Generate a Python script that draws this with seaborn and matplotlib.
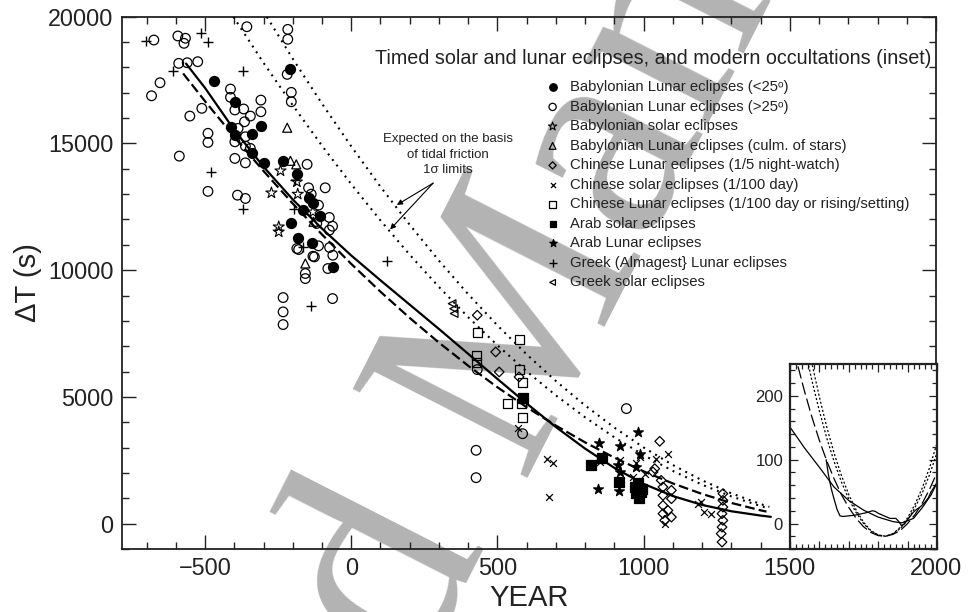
import matplotlib
matplotlib.use("Agg")
import matplotlib.pyplot as plt
from matplotlib.ticker import MultipleLocator, FixedLocator, NullFormatter
import seaborn as sns

# ---------------- data ----------------
BAB_LT25_YEAR = [-470, -396, -307, -411, -396, -341, -341, -299, -208, -233, -186, -146, -131, -166, -106, -205, -181, -134, -63]
BAB_LT25_DT = [17460, 16645, 15695, 15655, 15330, 15370, 14630, 14210, 17925, 14315, 13780, 12830, 12660, 12370, 12145, 11870, 11275, 11055, 10130]

BAB_GT25_YEAR = [-675, -593, -572, -567, -590, -561, -525, -654, -683, -511, -552, -490, -490, -588, -490,
                 -413, -413, -398, -368, -345, -365, -309, -309, -387, -362, -398, -362, -345, -398, -362,
                 -389, -362, -357, -217, -217, -219, -205, -205, -151, -146, -137, -112, -89, -118, -75,
                 -64, -75, -112, -180, -131, -74, -63, -186, -126, -80, -157, -157, -233, -233, -233,
                 -64, 431, 586, 427, 427, 941]
BAB_GT25_DT = [19080, 19240, 18950, 19150, 18160, 18185, 18225, 17395, 16880, 16385, 16080, 15400, 15040, 14500, 13110,
               17145, 16820, 16320, 16360, 16080, 15855, 16710, 16250, 15595, 15265, 15065, 14895, 14805, 14410, 14235,
               12960, 12830, 19605, 19500, 19110, 17725, 17015, 16645, 14175, 13250, 13000, 12565, 13250, 11845, 12080,
               11735, 11580, 10960, 10815, 10550, 10895, 10590, 10855, 10525, 10065, 9870, 9670, 8920, 8355, 7855,
               8880, 6080, 3550, 2895, 1815, 4540]

BAB_SOLAR_YEAR = [-242, -273, -186, -183, -248, -248, -131]
BAB_SOLAR_DT = [13920, 13050, 13485, 13000, 11710, 11510, 12300]

BAB_CULM_YEAR = [-219, -208, -188, -129, -157]
BAB_CULM_DT = [15620, 14315, 14175, 11910, 10265]

CHN_WATCH_YEAR = [431, 494, 506, 574, 1055, 1038, 1060, 1066, 1095, 1066, 1095, 1066, 1083, 1095, 1066, 1072, 1032,
                  1271, 1271, 1271, 1268, 1271, 1268, 1265, 1268]
CHN_WATCH_DT = [8225, 6775, 5985, 5790, 3250, 2170, 1710, 1445, 1315, 1117, 985, 720, 525, 260, 395, 130, 2040,
                1185, 920, 655, 395, 130, -135, -395, -725]

CHN_SOLAR_YEAR = [668, 691, 676, 572, 850, 918, 986, 1083, 1043, 1072, 1185, 1208, 1231, 975, 1003, 963, 1197]
CHN_SOLAR_DT = [2565, 2395, 1050, 3775, 2430, 2500, 2630, 2765, 2565, 0, 790, 460, 395, 2395, 1975, 1840, 855]

CHN_DAY_YEAR = [431, 429, 429, 577, 577, 585, 535, 581, 585]
CHN_DAY_DT = [7540, 6645, 6340, 7265, 6080, 5550, 4760, 4760, 4170]

ARAB_SOLAR_YEAR = [586, 856, 819, 916, 969, 982, 990, 975, 985, 995]
ARAB_SOLAR_DT = [4975, 2590, 2330, 1640, 1450, 1600, 1250, 1200, 1000, 1350]

ARAB_LUNAR_YEAR = [981, 846, 920, 913, 915, 844, 987, 973, 920]
ARAB_LUNAR_DT = [3615, 3195, 3065, 2300, 1290, 1380, 2765, 2235, 2040]

GREEK_LUNAR_YEAR = [-703, -515, -490, -610, -370, -480, -370, -197, -191, -166, -137, 122]
GREEK_LUNAR_DT = [19055, 19345, 18990, 17870, 17870, 13880, 12410, 12410, 13550, 10900, 8590, 10370]

GREEK_SOLAR_YEAR = [345, 350, 352]
GREEK_SOLAR_DT = [8680, 8480, 8290]

# fitted curve (solid)
FIT_YEAR = [-565, -500, -400, -300, -200, -100, 0, 100, 200, 300, 400, 500, 600, 700, 800, 900, 1000, 1100, 1200, 1300, 1400, 1435]
FIT_DT = [18150, 17190, 15530, 14080, 12790, 11640, 10580, 9600, 8640, 7680, 6700, 5710, 4740, 3810, 2960, 2200, 1570, 1090, 740, 490, 320, 270]

# parabola (dashed)
PAR_YEAR = [-575, -500, -400, -300, -200, -100, 0, 100, 200, 300, 400, 500, 600, 700, 800, 900, 1000, 1100, 1200, 1300, 1400, 1420]
PAR_DT = [17762, 16665, 15258, 13913, 12629, 11408, 10248, 9151, 8116, 7142, 6231, 5381, 4594, 3869, 3205, 2604, 2064, 1587, 1172, 818, 527, 476]

# tidal friction 1 sigma limits (dotted)
TID_YEAR = [-500, -400, -300, -200, -100, 0, 100, 200, 300, 400, 500, 600, 700, 800, 900, 1000, 1100, 1200, 1300, 1400, 1430]
TID_HI_DT = [24201, 22158, 20205, 18342, 16569, 14886, 13293, 11790, 10377, 9054, 7821, 6678, 5625, 4662, 3789, 3006, 2313, 1710, 1197, 774, 664]
TID_LO_DT = [21779, 19940, 18182, 16506, 14910, 13395, 11962, 10609, 9337, 8146, 7037, 6008, 5060, 4194, 3408, 2703, 2080, 1537, 1075, 694, 596]

# inset curves
IN_YEAR = [1500, 1525, 1550, 1575, 1600, 1625, 1650, 1675, 1700, 1725, 1750, 1775, 1800, 1825, 1850, 1875, 1900, 1925, 1950, 1975, 2000]
IN_PAR = [297, 250, 206, 166, 130, 98, 70, 45, 25, 8, -5, -14, -19, -20, -17, -11, 0, 14, 32, 54, 80]
IN_HI = [441, 372, 308, 250, 198, 151, 110, 75, 45, 21, 2, -11, -18, -20, -16, -6, 9, 30, 56, 88, 126]
IN_LO = [395, 332, 275, 223, 176, 134, 97, 65, 38, 17, 0, -12, -18, -20, -16, -8, 6, 25, 48, 77, 111]

IN_FIT_YEAR = [1500, 1550, 1600, 1650, 1700, 1750, 1800, 1850, 1880, 1920, 1950, 1980, 2000]
IN_FIT_DT = [151, 118, 88, 57, 36, 21, 10, 3, 1, 8, 25, 45, 64]

OBS_YEAR = [1623, 1630, 1640, 1650, 1660, 1670, 1680, 1700, 1720, 1740, 1760, 1780, 1790, 1800, 1820, 1840, 1860,
            1870, 1880, 1890, 1900, 1910, 1920, 1930, 1940, 1950, 1960, 1970, 1980, 1990, 2000]
OBS_DT = [100, 78, 55, 38, 22, 12, 11, 12, 13, 15, 17, 20, 19, 16, 12, 8, 8, 3, -4, 0, 6, 12, 18, 22, 25, 29, 34, 40, 50, 57, 64]

LABELS = ["Babylonian Lunar eclipses (<25\u1d52)",
          "Babylonian Lunar eclipses (>25\u1d52)",
          "Babylonian solar eclipses",
          "Babylonian Lunar eclipses (culm. of stars)",
          "Chinese Lunar eclipses (1/5 night-watch)",
          "Chinese solar eclipses (1/100 day)",
          "Chinese Lunar eclipses (1/100 day or rising/setting)",
          "Arab solar eclipses",
          "Arab Lunar eclipses",
          "Greek (Almagest} Lunar eclipses",
          "Greek solar eclipses"]

# ---------------- style ----------------
sns.set_theme(style="ticks")
plt.rcParams['font.family'] = ['Liberation Sans', 'DejaVu Sans']
plt.rcParams['lines.scale_dashes'] = False
plt.rcParams['text.color'] = '#222222'

fig = plt.figure(figsize=(9.69, 6.12), dpi=100)
fig.patch.set_facecolor('white')

# watermark
WM = dict(rotation=63, rotation_mode='anchor', va='baseline', fontsize=216,
          color='#b3b3b3', family='Liberation Serif', zorder=-5)
fig.text(0.5364, 0.2183, "Manuscript", ha='left', **WM)
fig.text(0.5364, 0.2183, "Accepted\u00a0", ha='right', **WM)

ax = fig.add_axes([0.1256, 0.1029, 0.8404, 0.8698])
ax.set_facecolor('none')

K = 'black'


def scat(xs, ys, marker, s, label, filled=False, lw=0.9):
    if marker in ('x', '+'):
        sns.scatterplot(x=xs, y=ys, marker=marker, s=s, color=K, linewidth=lw,
                        label=label, ax=ax, zorder=4)
    elif filled:
        sns.scatterplot(x=xs, y=ys, marker=marker, s=s, color=K, edgecolor=K,
                        linewidth=lw, label=label, ax=ax, zorder=4)
    else:
        sns.scatterplot(x=xs, y=ys, marker=marker, s=s, color=K, facecolor='none',
                        edgecolor=K, linewidth=lw, label=label, ax=ax, zorder=4)


scat(BAB_LT25_YEAR, BAB_LT25_DT, 'o', 52, LABELS[0], filled=True)
scat(BAB_GT25_YEAR, BAB_GT25_DT, 'o', 48, LABELS[1])
scat(BAB_SOLAR_YEAR, BAB_SOLAR_DT, '*', 70, LABELS[2], lw=0.8)
scat(BAB_CULM_YEAR, BAB_CULM_DT, '^', 42, LABELS[3])
scat(CHN_WATCH_YEAR, CHN_WATCH_DT, 'D', 24, LABELS[4])
scat(CHN_SOLAR_YEAR, CHN_SOLAR_DT, 'x', 24, LABELS[5], lw=0.9)
scat(CHN_DAY_YEAR, CHN_DAY_DT, 's', 42, LABELS[6])
scat(ARAB_SOLAR_YEAR, ARAB_SOLAR_DT, 's', 42, LABELS[7], filled=True)
scat(ARAB_LUNAR_YEAR, ARAB_LUNAR_DT, '*', 55, LABELS[8], filled=True)
scat(GREEK_LUNAR_YEAR, GREEK_LUNAR_DT, '+', 50, LABELS[9], lw=1.0)
scat(GREEK_SOLAR_YEAR, GREEK_SOLAR_DT, '<', 30, LABELS[10])

sns.lineplot(x=FIT_YEAR, y=FIT_DT, color=K, lw=1.6, ax=ax, sort=False, estimator=None, zorder=3)
sns.lineplot(x=PAR_YEAR, y=PAR_DT, color=K, lw=1.6, linestyle=(0, (7, 3)), ax=ax, sort=False,
             estimator=None, zorder=3)
sns.lineplot(x=TID_YEAR, y=TID_HI_DT, color=K, lw=1.5, linestyle=(0, (1.4, 3.6)), ax=ax, sort=False,
             estimator=None, zorder=3)
sns.lineplot(x=TID_YEAR, y=TID_LO_DT, color=K, lw=1.5, linestyle=(0, (1.4, 3.6)), ax=ax, sort=False,
             estimator=None, zorder=3)

ax.set_xlim(-785, 2000)
ax.set_ylim(-1000, 20000)
ax.xaxis.set_major_locator(MultipleLocator(500))
ax.xaxis.set_minor_locator(MultipleLocator(100))
ax.yaxis.set_major_locator(MultipleLocator(5000))
ax.yaxis.set_minor_locator(MultipleLocator(1000))
ax.tick_params(which='both', direction='in', top=True, right=True, width=1.0, color='#222222',
               labelsize=16.8, labelcolor='#222222')
ax.tick_params(which='major', length=10, pad=6)
ax.tick_params(which='minor', length=5)
for sp in ax.spines.values():
    sp.set_linewidth(1.3)
    sp.set_color('#222222')

ax.set_xlabel("YEAR", fontsize=21, color='#222222')
ax.set_ylabel("\u0394T (s)", fontsize=21, color='#222222')
ax.xaxis.set_label_coords(0.5, -0.092)
ax.xaxis.label.set_va('center')
ax.yaxis.set_label_coords(-0.115, 0.5)
ax.yaxis.label.set_va('center')

# legend title and legend
ax.text(82, 18370, "Timed solar and lunar eclipses, and modern occultations (inset)",
        fontsize=14.2, ha='left', va='center', color='#222222')
ax.legend(loc='upper left', bbox_to_anchor=(0.520, 0.8805), frameon=False, fontsize=10.7,
          handlelength=1.0, handletextpad=0.65, labelspacing=0.37, borderpad=0, borderaxespad=0,
          markerscale=0.75, scatterpoints=1, labelcolor='#222222')

# annotation
ax.text(331, 14560, "Expected on the basis\nof tidal friction\n1\u03c3 limits", fontsize=9.5,
        ha='center', va='center', linespacing=1.37, color='#222222')
for tip in [(156, 12575), (133, 11607)]:
    ax.annotate('', xy=tip, xytext=(280, 13435),
                arrowprops=dict(arrowstyle='-|>', lw=0.8, color=K, mutation_scale=8,
                                shrinkA=0, shrinkB=0))

# ---------------- inset ----------------
axin = fig.add_axes([0.8153, 0.1029, 0.1517, 0.3023])
axin.set_zorder(5)
axin.set_facecolor('white')
sns.lineplot(x=IN_FIT_YEAR, y=IN_FIT_DT, color=K, lw=0.9, ax=axin, sort=False, estimator=None)
sns.lineplot(x=OBS_YEAR, y=OBS_DT, color=K, lw=0.9, ax=axin, sort=False, estimator=None)
sns.lineplot(x=IN_YEAR, y=IN_PAR, color=K, lw=0.9, linestyle=(0, (9, 3)), ax=axin, sort=False, estimator=None)
sns.lineplot(x=IN_YEAR, y=IN_HI, color=K, lw=0.9, linestyle=(0, (1.5, 1.5)), ax=axin, sort=False, estimator=None)
sns.lineplot(x=IN_YEAR, y=IN_LO, color=K, lw=0.9, linestyle=(0, (1.5, 1.5)), ax=axin, sort=False, estimator=None)
axin.set_xlim(1500, 2000)
axin.set_ylim(-40, 250)
axin.xaxis.set_major_locator(MultipleLocator(100))
axin.xaxis.set_minor_locator(MultipleLocator(20))
axin.xaxis.set_major_formatter(NullFormatter())
axin.yaxis.set_major_locator(FixedLocator([0, 100, 200]))
axin.yaxis.set_minor_locator(MultipleLocator(20))
axin.tick_params(which='both', direction='in', top=True, right=True, width=0.9, color='#222222',
                 labelsize=12, labelcolor='#222222')
axin.tick_params(which='major', length=6, pad=5)
axin.tick_params(which='minor', length=3.5)
axin.set_xlabel('')
axin.set_ylabel('')
for sp in axin.spines.values():
    sp.set_linewidth(1.6)
    sp.set_color('#222222')

fig.savefig("out.png", dpi=100)
